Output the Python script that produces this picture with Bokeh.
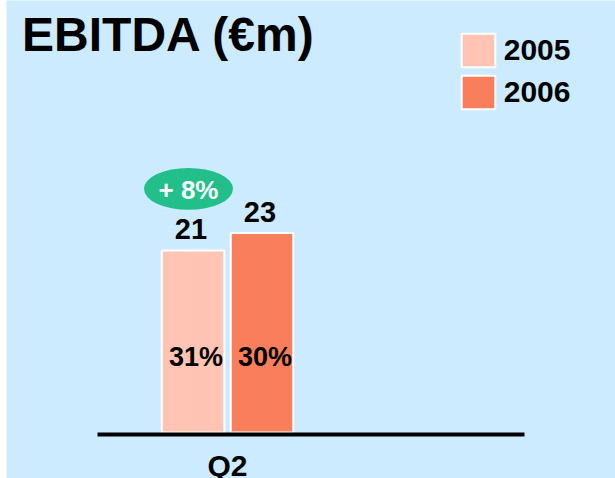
from bokeh.plotting import figure
from bokeh.models import Range1d, Label, Legend, LegendItem, ColumnDataSource
from bokeh.core.properties import value
from bokeh.embed import file_html
from bokeh.resources import INLINE

# ---- data ----
quarters = ["Q2"]
years = ["2005", "2006"]
ebitda = [21, 23]
margins = ["31%", "30%"]
growth_label = ["+ 8%"]

# ---- style ----
colors = ["#FFC4B3", "#F97E5B"]
BG = "#CCEBFF"
FONT = "Liberation Sans"
PX_PER_UNIT = 8.67

p = figure(width=615, height=478,
           x_range=Range1d(-2.21, 3.88),
           y_range=Range1d(-46 / PX_PER_UNIT, 432 / PX_PER_UNIT),
           output_backend="svg", toolbar_location=None,
           min_border=0, min_border_left=6,
           x_axis_location=None, y_axis_location=None,
           background_fill_color=BG, border_fill_color="white")
p.grid.visible = False
p.outline_line_color = None

offsets = [-0.345, 0.345]
src = ColumnDataSource(dict(x=offsets, top=ebitda, year=years, color=colors,
                            margin=margins, lbl=[str(v) for v in ebitda]))

r = p.vbar(x="x", top="top", bottom=0, width=0.625, fill_color="color",
           line_color="white", line_width=2, source=src)

# baseline
p.segment(x0=[-1.30], y0=[-0.23], x1=[2.97], y1=[-0.23], line_width=4, line_color="black")

# value labels
p.text(x="x", y="top", text="lbl", source=src, text_align="center",
       text_baseline="alphabetic", y_offset=-21, x_offset=-2,
       text_font=value(FONT), text_font_style="bold", text_font_size="29px", text_color="black")

# margin labels
p.text(x="x", y=7.6, text="margin", source=src, text_align="center",
       text_baseline="alphabetic", x_offset=3, y_offset=-10,
       text_font=value(FONT), text_font_style="bold", text_font_size="27px", text_color="black")

# category label
p.text(x=[0], y=[-5.13], text=quarters, text_align="center", text_baseline="alphabetic",
       y_offset=-11,
       text_font=value(FONT), text_font_style="bold", text_font_size="30px", text_color="black")

# growth bubble
gx = offsets[0] - 0.045
p.ellipse(x=[gx], y=[28.1], width=0.89, height=4.84, fill_color="#22BF8A", line_color=None)
p.text(x=[gx], y=[26.87], text=growth_label, text_align="center", text_baseline="alphabetic",
       y_offset=-10,
       text_font=value(FONT), text_font_style="bold", text_font_size="26px", text_color="white")

# title
p.add_layout(Label(x=15.6, y=444, x_units="screen", y_units="screen", text="EBITDA (€m)",
                   text_font=FONT, text_font_style="bold", text_font_size="48px",
                   text_baseline="alphabetic", text_color="black"))

legend = Legend(items=[LegendItem(label=years[i], renderers=[r], index=i) for i in range(len(years))],
                location=(450.75, 364.75), orientation="vertical",
                glyph_width=42, glyph_height=42, label_height=42, spacing=0,
                label_standoff=5, padding=0, margin=0, border_line_color=None,
                background_fill_alpha=0, label_text_font=FONT, label_text_font_style="bold",
                label_text_font_size="30px", label_text_color="black")
p.add_layout(legend)

open("out.html", "w").write(file_html(p, INLINE))
